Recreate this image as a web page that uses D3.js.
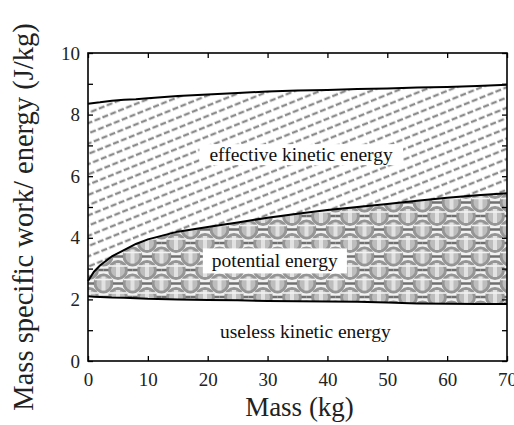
<!DOCTYPE html>
<html>
<head>
<meta charset="utf-8">
<script src="https://cdn.jsdelivr.net/npm/d3@7"></script>
<style>
  body { margin: 0; background: #fff; }
</style>
</head>
<body>
<svg id="chart" width="514" height="425"></svg>
<script>
"use strict";

const SERIF = "'Liberation Serif', 'Times New Roman', Times, serif"

// --- data ---
const mass      = [0, 1, 2, 4, 6, 8, 10, 15, 20, 25, 30, 35, 40, 45, 50, 55, 60, 65, 70]
const useless   = [2.1, 2.09, 2.08, 2.06, 2.05, 2.04, 2.02, 2.0, 1.98, 1.97, 1.95, 1.94, 1.93, 1.92, 1.9, 1.87, 1.86, 1.85, 1.85]
const potential = [2.6, 2.9, 3.1, 3.4, 3.6, 3.8, 3.95, 4.2, 4.35, 4.5, 4.65, 4.78, 4.9, 5.0, 5.1, 5.2, 5.3, 5.38, 5.45]
const effective = [8.35, 8.38, 8.4, 8.45, 8.48, 8.5, 8.53, 8.6, 8.65, 8.7, 8.75, 8.78, 8.8, 8.83, 8.85, 8.88, 8.9, 8.93, 8.97]

const xTicks = [0, 10, 20, 30, 40, 50, 60, 70]
const yTicks = [0, 2, 4, 6, 8, 10]
const yMinorTicks = [0, 1, 2, 3, 4, 5, 6, 7, 8, 9, 10]

const svg = d3.select("#chart")
const x = d3.scaleLinear().domain([0, 70]).range([88, 507])
const y = d3.scaleLinear().domain([0, 10]).range([361, 53])

// --- patterns ---
const defs = svg.append("defs")

const hatch = defs.append("pattern")
    .attr("id", "hatch")
    .attr("patternUnits", "userSpaceOnUse")
    .attr("width", 17).attr("height", 9.5)
    .attr("patternTransform", "rotate(-22)")
hatch.append("rect").attr("width", 17).attr("height", 9.5).attr("fill", "#fff")
hatch.append("line")
    .attr("x1", 0).attr("x2", 17).attr("y1", 4.75).attr("y2", 4.75)
    .attr("stroke", "#8c8c8c").attr("stroke-width", 2.3)
    .attr("stroke-dasharray", "6,2.5")

// honeycomb of grey rings
const cw = 29, chh = 27
const circ = defs.append("pattern")
    .attr("id", "circles")
    .attr("patternUnits", "userSpaceOnUse")
    .attr("width", cw).attr("height", chh)
    .attr("x", 2).attr("y", 0)
circ.append("rect").attr("width", cw).attr("height", chh).attr("fill", "#f2f2f2")
const centres = [[0, 0], [cw, 0], [0, chh], [cw, chh], [cw / 2, chh / 2]]
for (const [cx, cy] of centres) {
    circ.append("circle")
        .attr("cx", cx).attr("cy", cy).attr("r", 8.5)
        .attr("fill", "#bdbdbd").attr("stroke", "#959595").attr("stroke-width", 3)
    circ.append("rect")
        .attr("x", cx - 2).attr("y", cy - 7).attr("width", 4).attr("height", 14)
        .attr("fill", "#e2e2e2")
    circ.append("line")
        .attr("x1", cx - 9).attr("x2", cx + 9).attr("y1", cy - 4).attr("y2", cy - 4)
        .attr("stroke", "#f2f2f2").attr("stroke-width", 1.6)
    circ.append("line")
        .attr("x1", cx + 9.5).attr("x2", cx + 14.5).attr("y1", cy).attr("y2", cy)
        .attr("stroke", "#707070").attr("stroke-width", 2.5)
    circ.append("line")
        .attr("x1", cx - 14.5).attr("x2", cx - 9.5).attr("y1", cy).attr("y2", cy)
        .attr("stroke", "#707070").attr("stroke-width", 2.5)
}

const rows = mass.map((m, i) => ({m, u: useless[i], p: potential[i], e: effective[i]}))

// --- regions ---
svg.append("path")
    .datum(rows)
    .attr("fill", "url(#circles)")
    .attr("d", d3.area().x(d => x(d.m)).y0(d => y(d.u)).y1(d => y(d.p)))

svg.append("path")
    .datum(rows)
    .attr("fill", "url(#hatch)")
    .attr("d", d3.area().x(d => x(d.m)).y0(d => y(d.p)).y1(d => y(d.e)))

// --- boundary lines ---
for (const key of ["u", "p", "e"]) {
    svg.append("path")
        .datum(rows)
        .attr("fill", "none")
        .attr("stroke", "#000")
        .attr("stroke-width", 2)
        .attr("d", d3.line().x(d => x(d.m)).y(d => y(d[key])))
}

// --- region labels with white boxes ---
function boxedLabel (cx, cy, text, box) {
    const g = svg.append("g")
    const t = g.append("text")
        .attr("x", cx).attr("y", cy)
        .attr("text-anchor", "middle")
        .attr("dominant-baseline", "central")
        .attr("font-family", SERIF)
        .attr("font-size", 19.5)
        .attr("fill", "#111")
        .text(text)
    if (box) {
        const b = t.node().getBBox()
        g.insert("rect", "text")
            .attr("x", b.x - box[0]).attr("y", b.y - box[1])
            .attr("width", b.width + 2 * box[0]).attr("height", b.height + 2 * box[1])
            .attr("fill", "#fff")
    }
}
boxedLabel(x(35.6), y(6.7), "effective kinetic energy", [10, 0])
boxedLabel(x(31.2), y(3.25), "potential energy", [9, 2])
boxedLabel(x(36.3), y(0.95), "useless kinetic energy", null)

// --- axes (ticks inside, on all sides) ---
const tick = 5
const axB = svg.append("g").attr("transform", `translate(0,${y(0)})`)
    .call(d3.axisBottom(x).tickValues(xTicks).tickSizeInner(-tick).tickSizeOuter(0).tickPadding(12))
const axT = svg.append("g").attr("transform", `translate(0,${y(10)})`)
    .call(d3.axisTop(x).tickValues(xTicks).tickSizeInner(-tick).tickSizeOuter(0).tickFormat(""))
const axL = svg.append("g").attr("transform", `translate(${x(0)},0)`)
    .call(d3.axisLeft(y).tickValues(yMinorTicks).tickSizeInner(-tick).tickSizeOuter(0).tickPadding(8)
        .tickFormat(d => yTicks.includes(d) ? d : ""))
const axR = svg.append("g").attr("transform", `translate(${x(70)},0)`)
    .call(d3.axisRight(y).tickValues(yMinorTicks).tickSizeInner(-tick).tickSizeOuter(0).tickFormat(""))

for (const ax of [axB, axT, axL, axR]) {
    ax.attr("font-family", SERIF)
    ax.select(".domain").remove()
    ax.selectAll("line").attr("stroke", "#000").attr("stroke-width", 1.3)
    ax.selectAll("text")
        .attr("font-family", SERIF)
        .attr("font-size", 19).attr("fill", "#222")
}

svg.append("rect")
    .attr("x", x(0)).attr("y", y(10))
    .attr("width", x(70) - x(0)).attr("height", y(0) - y(10))
    .attr("fill", "none").attr("stroke", "#000").attr("stroke-width", 1.6)

// --- axis titles ---
svg.append("text")
    .attr("x", (x(0) + x(70)) / 2 + 2).attr("y", 416)
    .attr("text-anchor", "middle")
    .attr("font-family", SERIF)
    .attr("font-size", 27).attr("fill", "#222")
    .text("Mass (kg)")

svg.append("text")
    .attr("transform", `translate(33,${217}) rotate(-90)`)
    .attr("text-anchor", "middle")
    .attr("font-family", SERIF)
    .attr("font-size", 28.5).attr("fill", "#222")
    .text("Mass specific work/ energy (J/kg)")
</script>
</body>
</html>
